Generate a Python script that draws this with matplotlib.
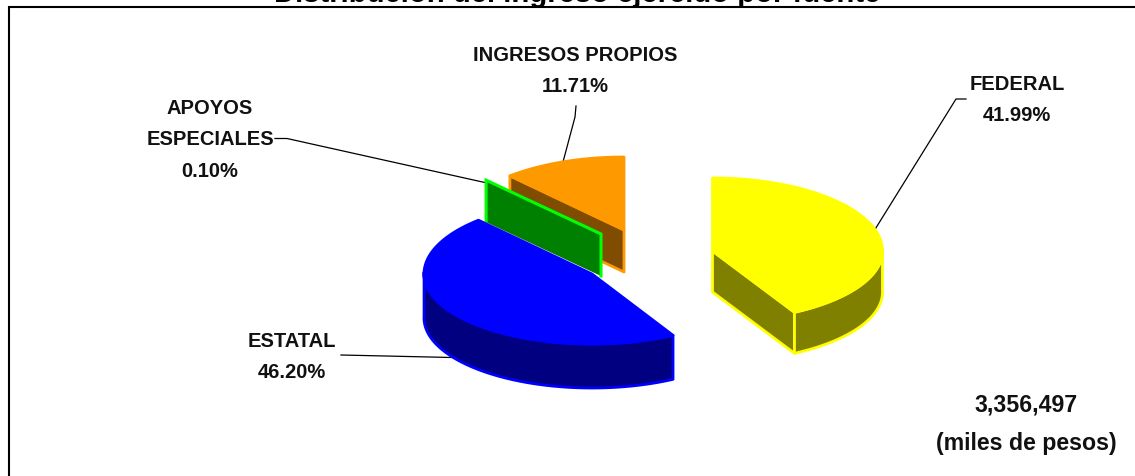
import numpy as np
import matplotlib
matplotlib.use("Agg")
import matplotlib.pyplot as plt
from matplotlib.patches import Polygon

title = "Distribución del ingreso ejercido por fuente"
categories = ["FEDERAL", "ESTATAL", "APOYOS\nESPECIALES", "INGRESOS PROPIOS"]
shares = [41.99, 46.20, 0.10, 11.71]
total_label = "3,356,497\n(miles de pesos)"

W, H = 1135, 477
fig = plt.figure(figsize=(W / 100, H / 100), dpi=100)
ax = fig.add_axes([0, 0, 1, 1])
ax.set_xlim(0, W)
ax.set_ylim(H, 0)
ax.axis("off")

FONT = "Liberation Sans"
RY_BACK, RY_FRONT = 73, 70

# layout / style per slice
rx = [170, 168, 170, 170]
apex = [(712.5, 252), (592, 275), (601, 235), (624, 231)]
depth = [41, 44, 42, 42]
face = ["#FFFF00", "#0000FF", "#008000", "#FF9900"]
edge = ["#FFFF00", "#0000FF", "#00FF00", "#FF9900"]
wall = ["#808000", "#000080", "#008000", "#804D00"]
label_xy = [(1017, 100), (292, 357), (210, 140), (575.5, 71)]
leaders = [
    [(966, 100), (956, 100), (874, 232)],
    [(341, 356), (452, 358.5)],
    [(275, 139.5), (287, 139.5), (487, 184)],
    [(576, 107), (575, 118), (563, 163)],
]
order = [3, 2, 1, 0]  # back to front


def rim(c, r, a):
    """Screen point of the rim at clockwise angle a (radians from 12 o'clock)."""
    a = np.asarray(a)
    ry = np.where(np.cos(a) > 0, RY_BACK, RY_FRONT)
    return c[0] + r * np.sin(a), c[1] - ry * np.cos(a)


def radial_wall(c, r, a, d):
    px, py = rim(c, r, a)
    px, py = float(px), float(py)
    return [c, (px, py), (px, py + d), (c[0], c[1] + d)]


edges = np.cumsum([0] + shares) / sum(shares) * 2 * np.pi

for i in order:
    c, d, r = apex[i], depth[i], rx[i]
    a0, a1 = edges[i], edges[i + 1]
    th = np.linspace(a0, a1, 160)
    x, y = rim(c, r, th)
    z = 2 + order.index(i)
    kw = dict(edgecolor=edge[i], linewidth=2.0, joinstyle="round")

    if i == 3:
        ax.add_patch(Polygon(radial_wall(c, r, a0, d), facecolor=wall[i], zorder=z, **kw))
    if i == 2:
        # the near-empty slice shows as a single wall, outlined on three sides
        q = radial_wall(c, r, a0, d)
        ax.add_patch(Polygon(q, facecolor=wall[i], edgecolor="none", zorder=z))
        lx_, ly_ = zip(*[q[3], q[0], q[1], q[2]])
        ax.plot(lx_, ly_, color=edge[i], lw=2.2, zorder=z + 0.1, solid_joinstyle="miter")
    if i == 0:
        ax.add_patch(Polygon(radial_wall(c, r, a1, d), facecolor=wall[i], zorder=z, **kw))
    # outer curved wall on the front half
    front = th[np.cos(th) < 0.03]
    if i in (0, 1) and len(front):
        fx, fy = rim(c, r, front)
        ax.add_patch(Polygon(np.r_[np.c_[fx, fy], np.c_[fx, fy + d][::-1]],
                             facecolor=wall[i], zorder=z, **kw))
    if i != 2:
        ax.add_patch(Polygon(np.r_[[c], np.c_[x, y]], facecolor=face[i],
                             zorder=z + 0.5, **kw))

for cat, share, (lx, ly), pts in zip(categories, shares, label_xy, leaders):
    ax.text(lx, ly, f"{cat}\n{share:.2f}%", ha="center", va="center", family=FONT,
            fontweight="bold", fontsize=14.5, linespacing=1.85, color="#111111", zorder=10)
    pts = np.array(pts)
    ax.plot(pts[:, 0], pts[:, 1], color="black", lw=0.9, zorder=1.5)

ax.text(1026, 424, total_label, ha="center", va="center", family=FONT, fontweight="bold",
        fontsize=16.7, linespacing=1.85, color="#111111", zorder=10)

ax.text(577, 2, title, ha="center", va="baseline", family="Liberation Sans",
        fontweight="bold", fontsize=21.1, color="black", zorder=10, clip_on=False)

ax.plot([9, 9, W], [H, 7.5, 7.5], color="black", lw=1.5, solid_joinstyle="miter", zorder=9)

fig.savefig("out.png", dpi=100, facecolor="white")
